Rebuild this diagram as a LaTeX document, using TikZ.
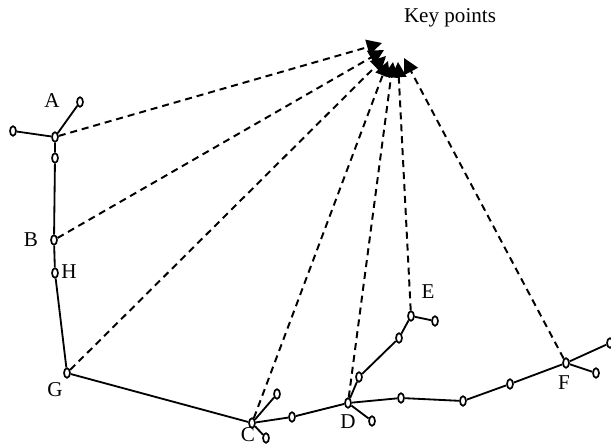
\documentclass[tikz,border=0pt]{standalone}
\usepackage{fontspec}
\setmainfont{Liberation Serif}
\usetikzlibrary{shapes.geometric, arrows.meta}

\begin{document}
\begin{tikzpicture}[
  x=0.025cm, y=-0.025cm,
  pt/.style={ellipse, draw, line width=1.2pt, fill=white, inner sep=0pt, minimum width=0.15cm, minimum height=0.24cm},
  lbl/.style={font=\fontsize{15}{18}\selectfont},
  seg/.style={line width=1.3pt},
  ray/.style={line width=1.4pt, dash pattern=on 5pt off 3.5pt, -{Triangle[length=0.38cm, width=0.38cm]}},
]
  \useasboundingbox (0,0) rectangle (611,445);

  % skeleton points
  \node[pt] (a) at (55,137) {};
  \node[pt] (a1) at (80,102) {};
  \node[pt] (a2) at (13,131) {};
  \node[pt] (a3) at (55,158) {};
  \node[pt] (b) at (54,240) {};
  \node[pt] (h) at (55,273) {};
  \node[pt] (g) at (67,373) {};
  \node[pt] (c) at (252,423) {};
  \node[pt] (c1) at (277,394) {};
  \node[pt] (c2) at (266,438) {};
  \node[pt] (cd) at (292,417) {};
  \node[pt] (d) at (348,403) {};
  \node[pt] (d1) at (372,421) {};
  \node[pt] (d2) at (359,377) {};
  \node[pt] (d3) at (399,338) {};
  \node[pt] (e) at (411,316) {};
  \node[pt] (e1) at (435,321) {};
  \node[pt] (dd) at (401,398) {};
  \node[pt] (df1) at (463,401) {};
  \node[pt] (df2) at (510,384) {};
  \node[pt] (f) at (566,363) {};
  \node[pt] (f1) at (596,373) {};
  \node[pt] (f2) at (610,343) {};

  % labels
  \node[lbl] (la) at (52,101) {A};
  \node[lbl] (lb) at (31,240) {B};
  \node[lbl] (lh) at (69,272) {H};
  \node[lbl] (lg) at (55,390) {G};
  \node[lbl] (lc) at (248,435) {C};
  \node[lbl] (ld) at (348,422) {D};
  \node[lbl] (le) at (428,292) {E};
  \node[lbl] (lf) at (564,383) {F};
  \node[lbl] (key) at (450,18) {Key points};

  % arrow ends
  \coordinate (ka) at (382,43);
  \coordinate (kb) at (384,50);
  \coordinate (kg) at (386,56);
  \coordinate (kc) at (388,61);
  \coordinate (kd) at (393,62);
  \coordinate (ke) at (398,62);
  \coordinate (kf) at (404,58);

  \draw[ray] (a) -- (ka);
  \draw[ray] (b) -- (kb);
  \draw[ray] (g) -- (kg);
  \draw[ray] (c) -- (kc);
  \draw[ray] (d) -- (kd);
  \draw[ray] (e) -- (ke);
  \draw[ray] (f) -- (kf);

  \draw[seg] (a2) -- (a) -- (a1);
  \draw[seg] (a) -- (a3) -- (b) -- (h) -- (g) -- (c) -- (cd) -- (d);
  \draw[seg] (c1) -- (c) -- (c2);
  \draw[seg] (d1) -- (d) -- (d2) -- (d3) -- (e) -- (e1);
  \draw[seg] (d) -- (dd) -- (df1) -- (df2) -- (f) -- (f1);
  \draw[seg] (f) -- (f2);
\end{tikzpicture}
\end{document}
